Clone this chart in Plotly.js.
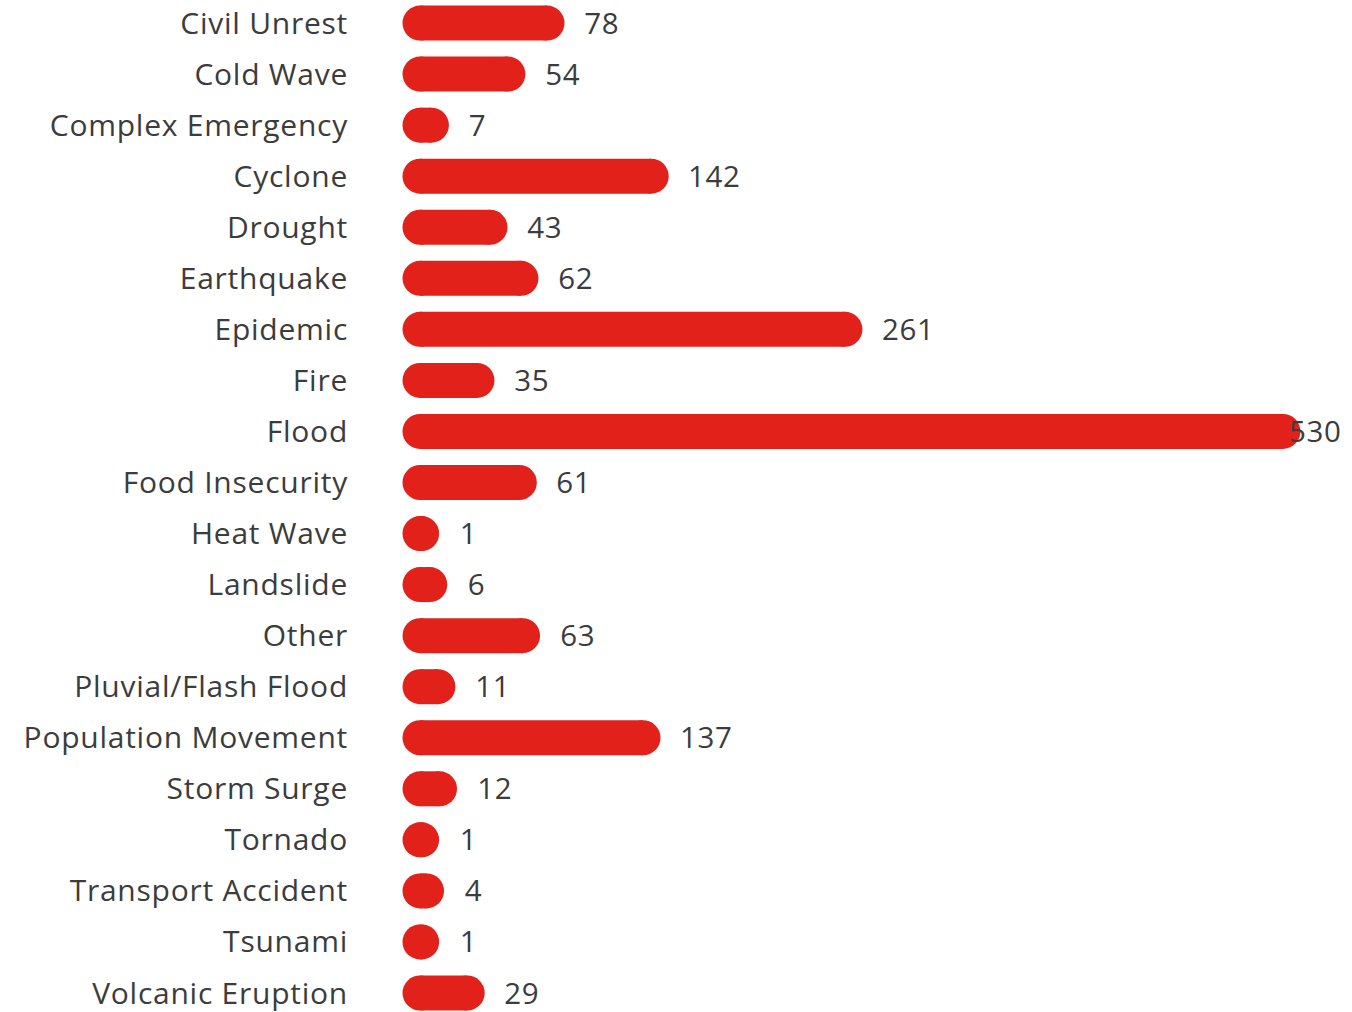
<!DOCTYPE html>
<html>
<head>
<meta charset="utf-8">
<script src="https://cdn.plot.ly/plotly-3.0.1.min.js"></script>
<style>html,body{margin:0;padding:0;background:#fff;}#chart{width:1352px;height:1012px;}#chart text{letter-spacing:0.75px;}</style>
</head>
<body>
<div id="chart"></div>
<script>
const categories = ["Civil Unrest","Cold Wave","Complex Emergency","Cyclone","Drought","Earthquake","Epidemic","Fire","Flood","Food Insecurity","Heat Wave","Landslide","Other","Pluvial/Flash Flood","Population Movement","Storm Surge","Tornado","Transport Accident","Tsunami","Volcanic Eruption"];
const counts = [78,54,7,142,43,62,261,35,530,61,1,6,63,11,137,12,1,4,1,29];

const RED = "#e2211b";
const FONT = "Open Sans, sans-serif";
const TXT = "#3c3c3c";
const W = 1352, H = 1012, ML = 403, MR = 10;
const XMIN = -10.44, XMAX = 566.3;
const plotW = W - ML - MR;
const pxPerUnit = plotW / (XMAX - XMIN);
const ROW = 51.05;
const Y_BOTTOM = 19 + 19 / ROW;
const Y_TOP = Y_BOTTOM - H / ROW;

const xs = [], ys = [];
categories.forEach((c, i) => { xs.push(0, counts[i], null); ys.push(c, c, null); });

const bars = {
  type: "scatter", mode: "lines+markers", x: xs, y: ys,
  line: {color: RED, width: 35},
  marker: {color: RED, size: 35, line: {width: 0}},
  connectgaps: false, hoverinfo: "skip", showlegend: false, cliponaxis: false
};

const annotations = categories.map((c, i) => {
  const v = counts[i];
  const label = String(v);
  const startPx = (v - XMIN) * pxPerUnit + 37;
  const estW = label.length * 18;
  const base = {yref: "y", y: c, text: label, showarrow: false, yanchor: "middle", borderpad: 0, yshift: 1,
                font: {family: FONT, size: 29.5, color: TXT}};
  if (startPx + estW > plotW) {
    return Object.assign(base, {xref: "paper", x: 1, xanchor: "right"});
  }
  return Object.assign(base, {xref: "x", x: v, xshift: 37, xanchor: "left"});
});

const layout = {
  width: W, height: H,
  margin: {l: ML, r: MR, t: 0, b: 0, pad: 0},
  paper_bgcolor: "#fff", plot_bgcolor: "#fff",
  font: {family: FONT, color: TXT},
  showlegend: false,
  xaxis: {range: [XMIN, XMAX], visible: false, fixedrange: true},
  yaxis: {type: "category", categoryorder: "array", categoryarray: categories,
          range: [Y_BOTTOM, Y_TOP], showgrid: false, zeroline: false, showline: false,
          ticks: "", ticklabelstandoff: 54, tickfont: {family: FONT, size: 30, color: TXT}},
  annotations: annotations
};

Plotly.newPlot("chart", [bars], layout, {displayModeBar: false, staticPlot: true});
</script>
</body>
</html>
